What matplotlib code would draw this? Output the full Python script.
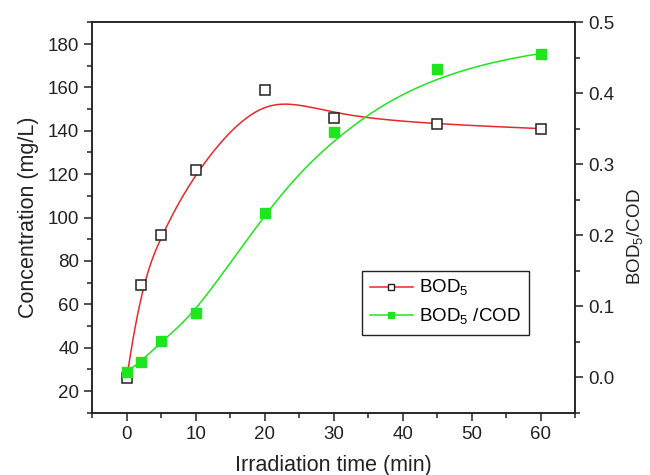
import numpy as np
import matplotlib.pyplot as plt
from matplotlib.ticker import MultipleLocator

plt.rcParams['font.family'] = ['Liberation Sans', 'DejaVu Sans']
plt.rcParams['mathtext.fontset'] = 'custom'
plt.rcParams['mathtext.rm'] = 'Liberation Sans'

time = [0, 2, 5, 10, 20, 30, 45, 60]
bod5 = [26, 69, 92, 122, 159, 146, 143, 141]
ratio = [0.008, 0.021, 0.051, 0.090, 0.232, 0.345, 0.434, 0.456]

RED = '#e8282b'
GREEN = '#1ee61e'


def bspline(xs, ys, num=300):
    # clamped cubic B-spline with the data points as control points
    pts = np.column_stack([xs, ys]).astype(float)
    n = len(pts)
    k = 3
    knots = np.concatenate([np.zeros(k), np.linspace(0, 1, n - k + 1), np.ones(k)])
    ts = np.linspace(0, 1, num)
    out = []
    for t in ts:
        if t >= 1:
            out.append(pts[-1])
            continue
        N = np.array([1.0 if knots[i] <= t < knots[i + 1] else 0.0
                      for i in range(len(knots) - 1)])
        for d in range(1, k + 1):
            Nn = np.zeros(len(knots) - 1 - d)
            for i in range(len(Nn)):
                a = 0.0
                if knots[i + d] != knots[i]:
                    a = (t - knots[i]) / (knots[i + d] - knots[i]) * N[i]
                b = 0.0
                if knots[i + d + 1] != knots[i + 1]:
                    b = (knots[i + d + 1] - t) / (knots[i + d + 1] - knots[i + 1]) * N[i + 1]
                Nn[i] = a + b
            N = Nn
        out.append(N @ pts)
    out = np.array(out)
    return out[:, 0], out[:, 1]


fig = plt.figure(figsize=(6.5, 4.75), dpi=100)
ax = fig.add_axes([0.142, 0.131, 0.743, 0.822])
ax2 = ax.twinx()

cx, cy = bspline(time, bod5)
ax.plot(cx, cy, color=RED, lw=1.1, zorder=2)
ax.plot(time, bod5, ls='none', marker='s', ms=7.5, mfc='white', mec='#222222',
        mew=1.1, zorder=3)
gx, gy = bspline(time, ratio)
ax2.plot(gx, gy, color=GREEN, lw=1.1, zorder=2)
ax2.plot(time, ratio, ls='none', marker='s', ms=7.5, mfc=GREEN, mec=GREEN, zorder=3)

ax.set_xlim(-5, 65)
ax.set_ylim(10, 190)
ax2.set_ylim(-0.05, 0.5)
ax.xaxis.set_major_locator(MultipleLocator(10))
ax.xaxis.set_minor_locator(MultipleLocator(5))
ax.yaxis.set_major_locator(MultipleLocator(20))
ax.yaxis.set_minor_locator(MultipleLocator(10))
ax2.yaxis.set_minor_locator(MultipleLocator(0.05))
ax2.set_yticks(np.arange(0, 0.51, 0.1))
ax2.set_yticklabels(['0.0', '0.1', '0.2', '0.3', '0.4', '0.5'])

for a in (ax, ax2):
    a.tick_params(which='both', direction='out', width=1.1, colors='#222222',
                  labelsize=13.5, labelcolor='#222222')
    a.tick_params(which='major', length=6)
    a.tick_params(which='minor', length=3.5)
    for s in a.spines.values():
        s.set_linewidth(1.1)
        s.set_color('#222222')
ax.tick_params(top=False, right=False)

ax.set_xlabel('Irradiation time (min)', fontsize=15.5, color='#222222', labelpad=9)
ax.set_ylabel('Concentration (mg/L)', fontsize=15.5, color='#222222', labelpad=6)
ax2.set_ylabel('BOD$_5$/COD', fontsize=13.5, color='#222222')
ax2.yaxis.set_label_coords(1.105, 0.45)

h1, = ax.plot([], [], color=RED, lw=1.1, marker='s', ms=5, mfc='white', mec='#222222')
h2, = ax.plot([], [], color=GREEN, lw=1.1, marker='s', ms=5, mfc=GREEN, mec=GREEN)
leg = ax2.legend([h1, h2], ['BOD$_5$', 'BOD$_5$ /COD'], loc='upper left',
                 bbox_to_anchor=(0.559, 0.364), fontsize=13.5, fancybox=False,
                 edgecolor='#222222', framealpha=1, handlelength=2.3,
                 handletextpad=0.35, borderpad=0.4, labelspacing=0.45,
                 borderaxespad=0)
leg.get_frame().set_linewidth(1.0)

fig.savefig('out.png', dpi=100)
